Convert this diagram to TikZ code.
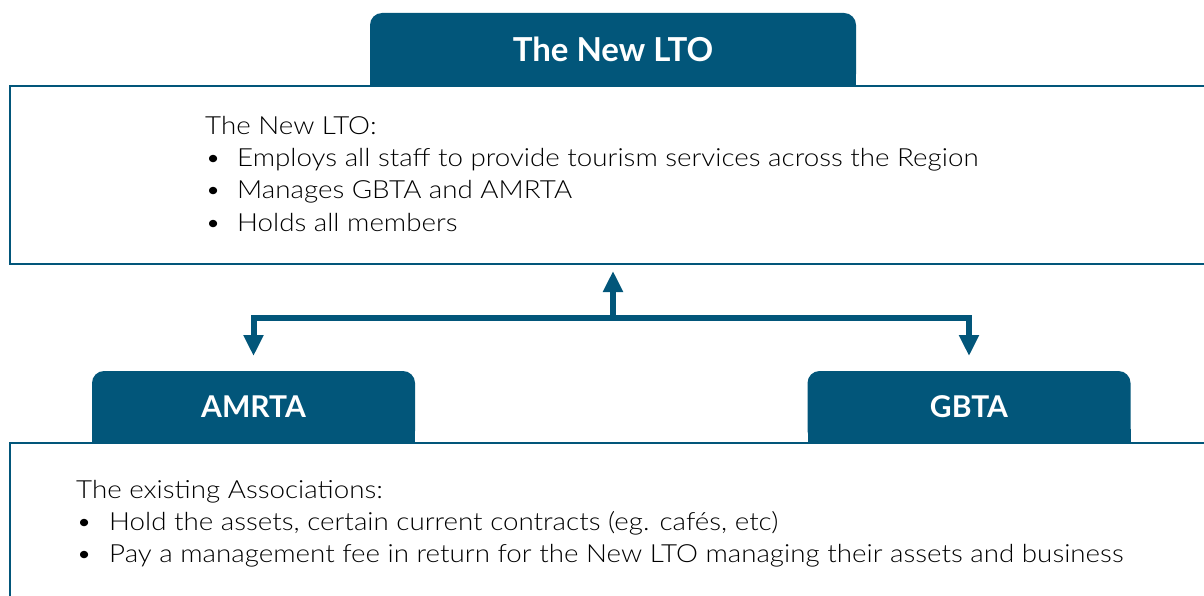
\documentclass[tikz,border=0pt]{standalone}
\usepackage{fontspec}
\setmainfont{Lato}
\newfontfamily\lightfont[FakeStretch=1.11]{Lato Light}
\usepackage{xcolor}
\usetikzlibrary{positioning,arrows.meta}
\definecolor{ltoblue}{HTML}{02567A}
\begin{document}
\begin{tikzpicture}[x=1pt,y=-1pt,
tab/.style={fill=ltoblue,text=white,rounded corners=12pt,inner sep=0pt,
outer sep=0pt,anchor=south,font=\bfseries\fontsize{33}{36}\selectfont},
subtab/.style={tab,minimum width=323pt,minimum height=72pt,
font=\bfseries\fontsize{30}{34}\selectfont},
panel/.style={draw=ltoblue,line width=2.5pt,fill=white,inner sep=0pt,
outer sep=0pt,anchor=north west,minimum width=1220pt},
bodytext/.style={anchor=base west,inner sep=0pt,
font=\lightfont\fontsize{25}{32}\selectfont},
link/.style={draw=ltoblue,line width=6pt,-{Triangle[width=19pt,length=21pt]}}]
    \useasboundingbox (0,0) rectangle (1204,596);
    \clip (0,0) rectangle (1204,596);
    \node[panel,minimum height=178pt] (lto box) at (10,86) {};
    \node[panel,minimum height=200pt] (assoc box) at (10,443) {};
    \node[tab,minimum width=486pt,minimum height=73pt] (lto tab) at (613,86) {The New LTO};
    \node[subtab] (amrta tab) at (253.5,443) {AMRTA};
    \node[subtab] (gbta tab) at (969,443) {GBTA};
    \fill[ltoblue] ([yshift=14pt]lto tab.south west) rectangle (lto tab.south east);
    \fill[ltoblue] ([yshift=14pt]amrta tab.south west) rectangle (amrta tab.south east);
    \fill[ltoblue] ([yshift=14pt]gbta tab.south west) rectangle (gbta tab.south east);
    \node[bodytext] (lto head) at (205,135) {The New LTO:};
    \node[bodytext] (lto item1) at (205,167) {\makebox[32pt][l]{\textbullet}Employs all staff to provide tourism services across the Region};
    \node[bodytext] (lto item2) at (205,199) {\makebox[32pt][l]{\textbullet}Manages GBTA and AMRTA};
    \node[bodytext] (lto item3) at (205,231) {\makebox[32pt][l]{\textbullet}Holds all members};
    \node[bodytext] (assoc head) at (76,498) {The existing Associations:};
    \node[bodytext] (assoc item1) at (76,530) {\makebox[33pt][l]{\textbullet}Hold the assets, certain current contracts (eg. cafés, etc)};
    \node[bodytext] (assoc item2) at (76,562) {\makebox[33pt][l]{\textbullet}Pay a management fee in return for the New LTO managing their assets and business};
    \coordinate (hub) at (613,318);
    \draw[link,shorten >=7pt] (hub) -- (hub |- lto box.south);
    \draw[link,shorten >=15pt] (hub) -| (amrta tab.north);
    \draw[link,shorten >=15pt] (hub) -| (gbta tab.north);
\end{tikzpicture}
\end{document}
